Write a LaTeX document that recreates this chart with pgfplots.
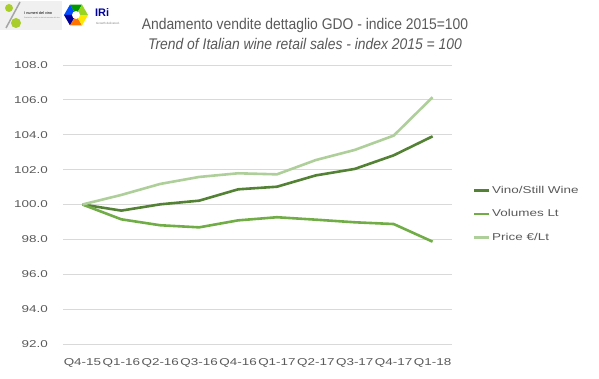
\documentclass[border=0pt]{standalone}
\usepackage{fontspec}
\setmainfont{Liberation Sans}
\newfontfamily\tickfont[FakeStretch=1.35]{Liberation Sans}
\newfontfamily\titlefont[FakeStretch=0.9]{Liberation Sans}
\usepackage{pgfplots}
\pgfplotsset{compat=1.18}
\definecolor{vino}{HTML}{548235}
\definecolor{vol}{HTML}{70AD47}
\definecolor{price}{HTML}{AECF9A}
\definecolor{txt}{HTML}{595959}
\definecolor{grd}{HTML}{D9D9D9}
\begin{document}
\begin{tikzpicture}[x=1bp,y=1bp]
\useasboundingbox (0,0) rectangle (599,378);
% logos
\fill[gray!12] (0,348) rectangle (62,377);
\fill[vol!60!yellow] (9,370) circle (4);
\fill[vol!60!yellow] (16,355) circle (5);
\draw[gray!70, line width=1.5] (6,350) -- (20,376);
\node[font=\fontsize{3.8}{4}\selectfont, anchor=west, inner sep=0] at (24,365) {I numeri del vino};
\node[font=\fontsize{1.8}{2}\selectfont, text=gray, anchor=west, inner sep=0] at (24,360) {Statistiche, analisi e dati sul mercato del vino};
\foreach \a/\c in {90/green!60!black,150/blue!70!cyan,210/blue!60!black,270/orange!90!red,330/yellow!90!orange,30/yellow!60!green}{
  \fill[\c] (76,363) -- ++(\a-30:12) -- ++(\a+90:12) -- cycle;
}
\fill[white] (76,363) circle (4);
\node[font=\bfseries\fontsize{11}{12}\selectfont, text=blue!60!black, anchor=west, inner sep=0] at (95,365) {IRi};
\node[font=\fontsize{3}{3.5}\selectfont, text=gray, anchor=west, inner sep=0] at (96,355) {Growth delivered.};
% titles
\node[font=\titlefont\fontsize{15.5}{18}\selectfont, text=txt, anchor=base] at (305,349) {Andamento vendite dettaglio GDO - indice 2015=100};
\node[font=\titlefont\itshape\fontsize{15.5}{18}\selectfont, text=txt, anchor=base] at (305,329) {Trend of Italian wine retail sales - index 2015 = 100};
\begin{axis}[
  at={(63bp,34bp)}, anchor=south west, scale only axis,
  width=389bp, height=279bp,
  xmin=-0.5, xmax=9.5, ymin=92, ymax=108,
  ytick={92,94,96,98,100,102,104,106,108},
  xtick={0,1,2,3,4,5,6,7,8,9},
  xticklabels={Q4-15,Q1-16,Q2-16,Q3-16,Q4-16,Q1-17,Q2-17,Q3-17,Q4-17,Q1-18},
  /pgf/number format/assume math mode=true,
  yticklabel={\pgfmathprintnumber[fixed,fixed zerofill,precision=1]{\tick}},
  yticklabel style={font=\tickfont\fontsize{10}{12}\selectfont, text=txt, anchor=east, inner sep=0pt, xshift=-15bp},
  xticklabel style={font=\tickfont\fontsize{10}{12}\selectfont, text=txt, anchor=north, inner sep=0pt, yshift=-14bp},
  axis line style={draw=none},
  major tick length=0pt,
  ymajorgrids, grid style={draw=grd, line width=0.8bp},
  legend style={at={(1.046,0.466)}, anchor=west, draw=none, fill=none,
    font=\tickfont\fontsize{10}{12}\selectfont, text=txt, row sep=12bp,
    nodes={inner sep=1.5bp}},
  legend cell align=left,
  legend image code/.code={\draw[#1] (0bp,0bp) -- (15bp,0bp);},
  every axis plot/.append style={line width=2.6bp, line join=round},
]
\addplot[vino] coordinates {(0,100) (1,99.65) (2,100.01) (3,100.22) (4,100.87) (5,101.02) (6,101.67) (7,102.04) (8,102.82) (9,103.91)};
\addlegendentry{Vino/Still Wine}
\addplot[vol] coordinates {(0,100) (1,99.15) (2,98.81) (3,98.69) (4,99.09) (5,99.27) (6,99.13) (7,98.98) (8,98.88) (9,97.87)};
\addlegendentry{Volumes Lt}
\addplot[price] coordinates {(0,100) (1,100.55) (2,101.18) (3,101.58) (4,101.79) (5,101.73) (6,102.55) (7,103.13) (8,103.95) (9,106.15)};
\addlegendentry{Price €/Lt}
\end{axis}
\end{tikzpicture}
\end{document}
